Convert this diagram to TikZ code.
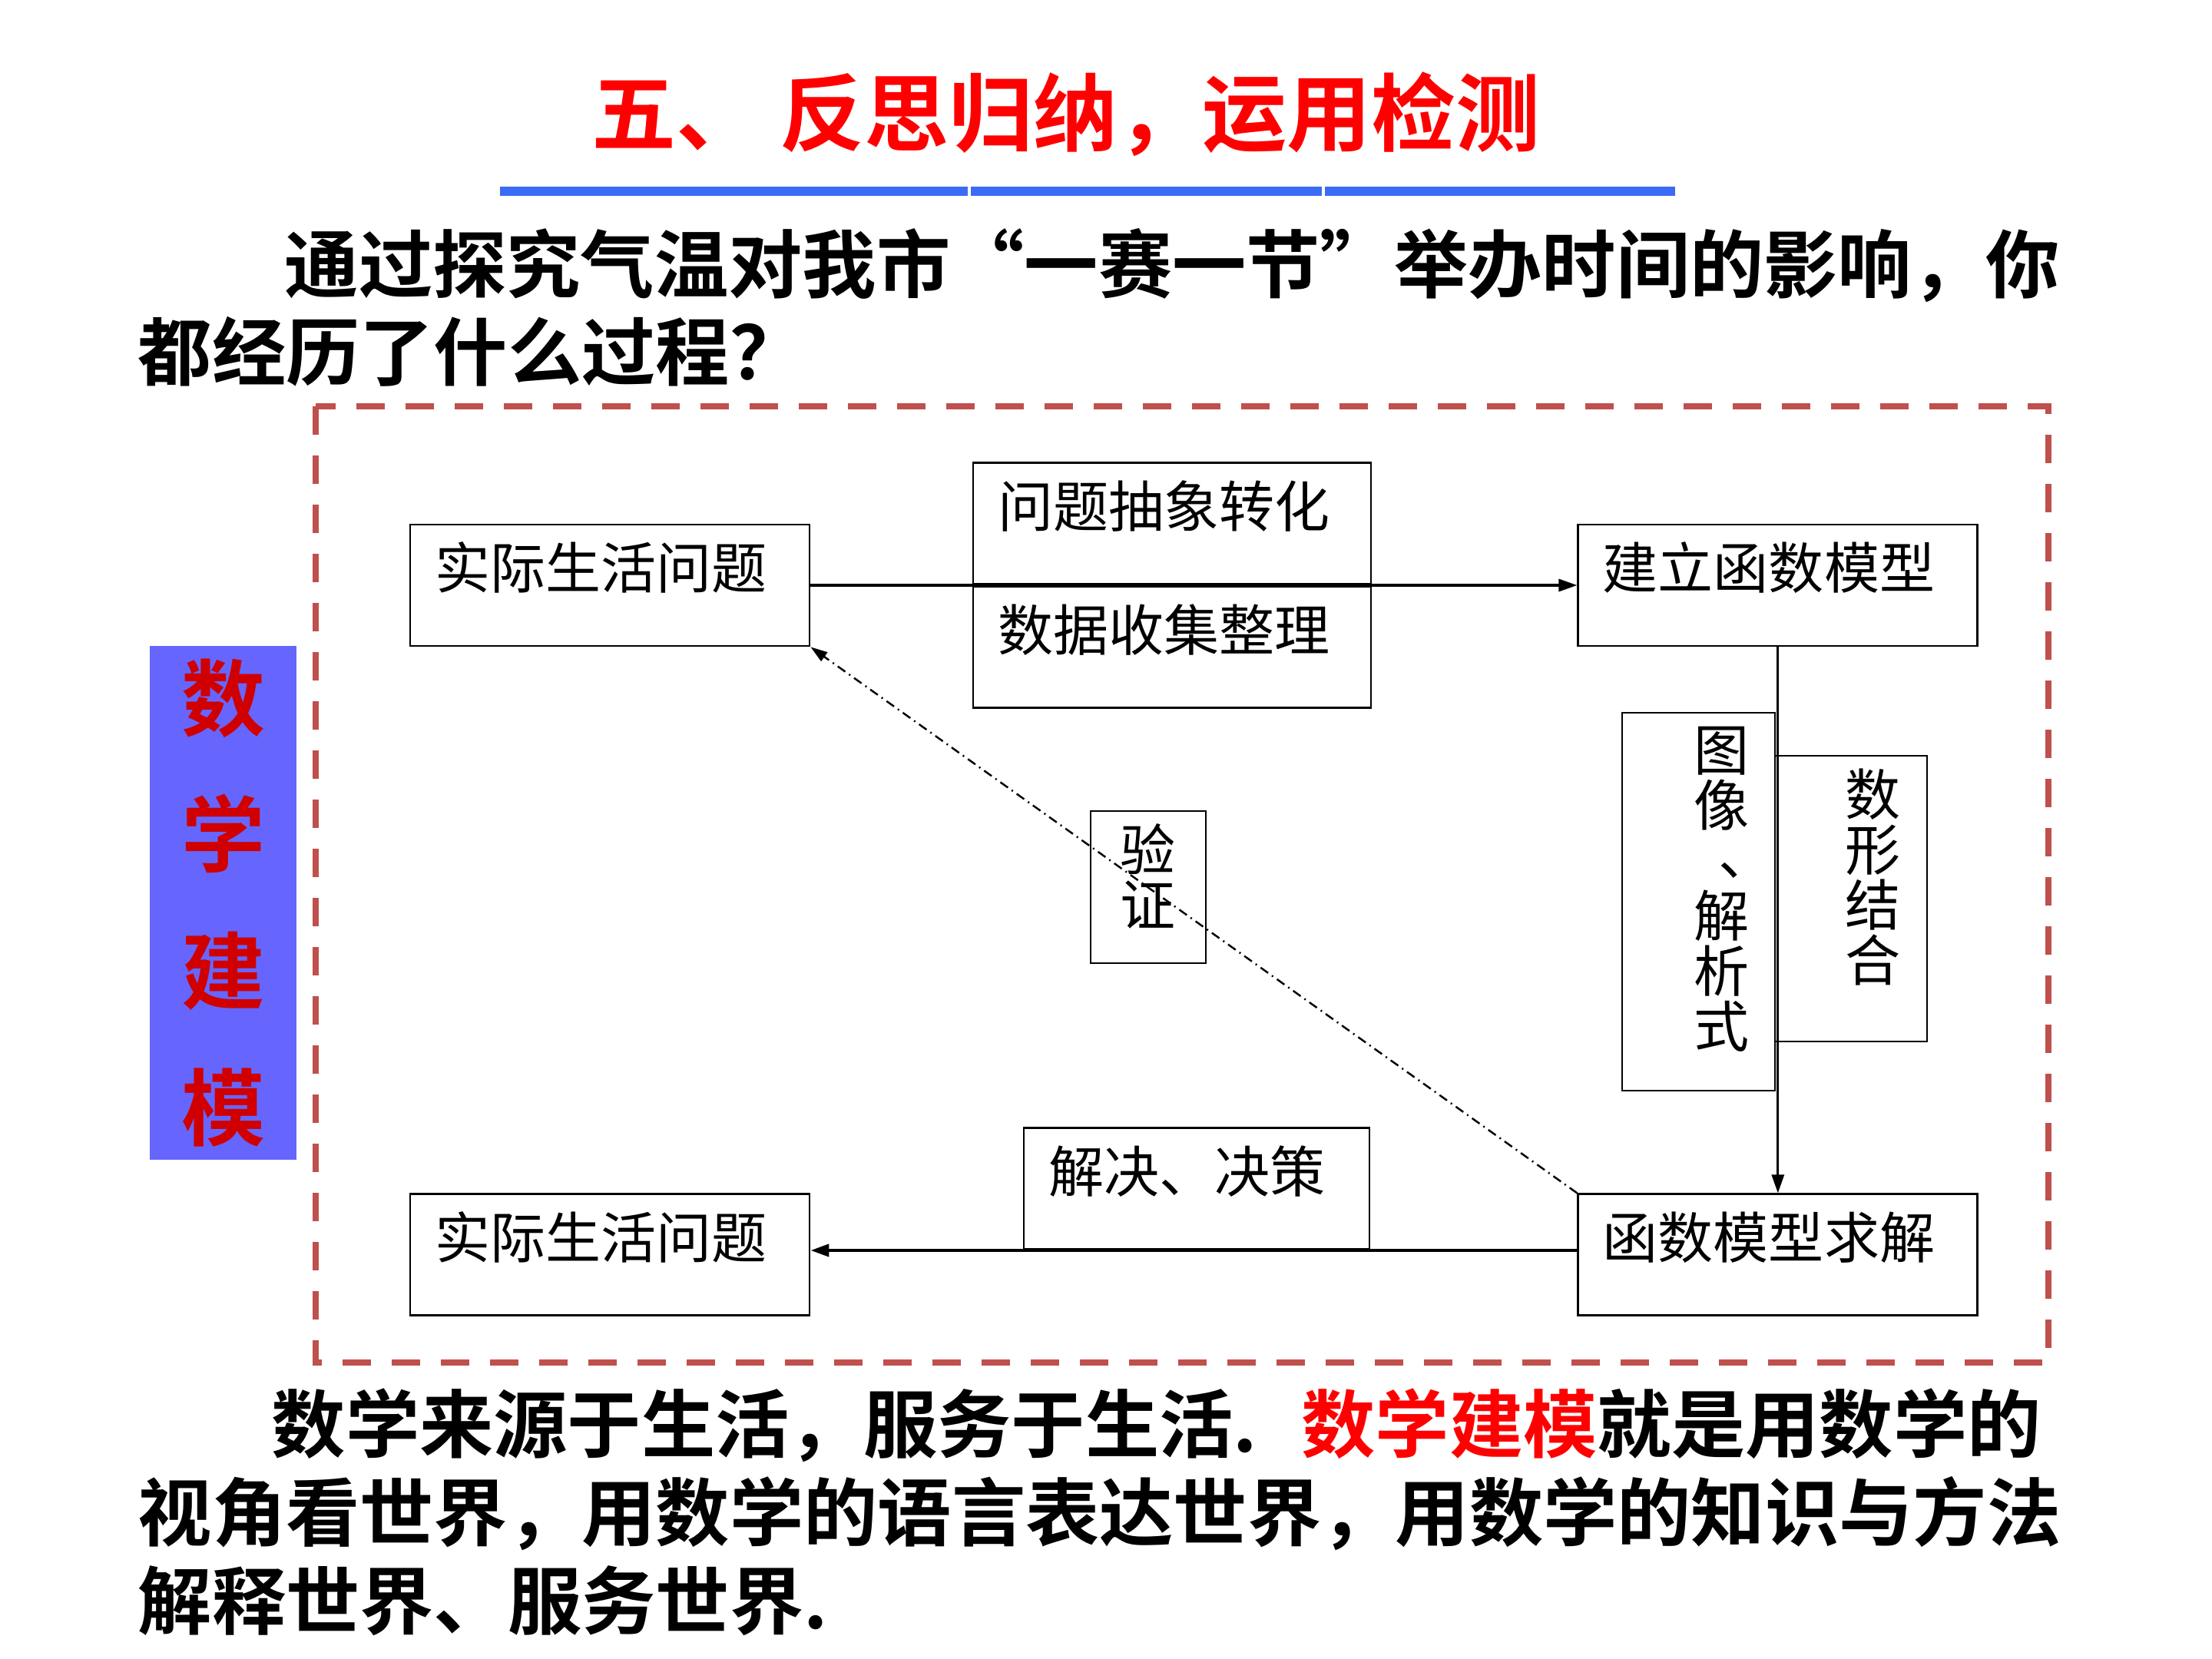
\documentclass[tikz,border=0pt]{standalone}
\usepackage{fontspec}
\setmainfont{Noto Sans CJK SC}[BoldFont={Noto Sans CJK SC Bold}]
\usetikzlibrary{arrows.meta, positioning}
\definecolor{framered}{RGB}{192,80,77}
\definecolor{ruleblue}{RGB}{59,107,245}
\definecolor{sideblue}{RGB}{102,102,255}
\definecolor{sidered}{RGB}{208,0,0}
\tikzset{%
	box/.style={draw, rectangle, line width=0.8pt, inner xsep=0.32cm, inner ysep=0mm,%
		text width=4.56cm, align=left, text height=0.84cm, text depth=0.74cm,%
		font=\fontsize{20.5}{20.5}\selectfont},
	vbox/.style={draw, rectangle, line width=0.8pt, inner sep=0mm},
	vtext/.style={align=center, inner sep=0mm, font=\fontsize{20.5}{20.5}\selectfont},
	sel/.style={-{Triangle[length=0.24cm, width=0.16cm]}, line width=0.9pt},
	back/.style={-{Triangle[length=0.22cm, width=0.14cm]}, line width=0.7pt,%
		dash pattern=on 0.12cm off 0.06cm on 0.02cm off 0.06cm},
	frame/.style={draw=framered, line width=0.08cm, dash pattern=on 0.37cm off 0.27cm},
	para/.style={anchor=base west, inner sep=0mm, font=\fontsize{27.4}{27.4}\selectfont\bfseries},
	sidebar/.style={fill=sideblue, minimum width=1.91cm, minimum height=6.69cm, inner sep=0mm,%
		align=center, text=sidered, font=\fontsize{31}{50.6}\selectfont\bfseries}
}
\begin{document}
\begin{tikzpicture}
	\useasboundingbox (0,0) rectangle (28.8,-21.6);

	% heading
	\node [anchor=base, inner sep=0mm, text=red, font=\fontsize{31.3}{31.3}\selectfont\bfseries]
		(head) at (13.88,-1.89) {五、 反思归纳，运用检测};
	\draw [ruleblue, line width=0.12cm] (6.51,-2.49) -- (12.60,-2.49);
	\draw [ruleblue, line width=0.12cm] (12.64,-2.49) -- (17.21,-2.49);
	\draw [ruleblue, line width=0.12cm] (17.25,-2.49) -- (21.81,-2.49);

	\node [para] (p1) at (3.70,-3.81) {通过探究气温对我市“一赛一节”举办时间的影响，你};
	\node [para] (p2) at (1.79,-4.95) {都经历了什么过程？};

	% frame
	\draw [frame] (4.11,-5.29) rectangle (26.67,-17.74);
	\node [sidebar] (mark) at (2.905,-11.755) {数\\学\\建\\模};

	% boxes
	\node [box] (real1) at (7.94,-7.62) {实际生活问题};
	\node [box, right=9.98 of real1] (model) {建立函数模型};
	\node [box, below=7.11 of model] (solve) {函数模型求解};
	\node [box, below=7.11 of real1] (real2) {实际生活问题};
	\node [box, anchor=south, text width=4.54cm] (abstr) at (15.26,-7.62) {问题抽象转化};
	\node [box, below=0mm of abstr, text width=4.54cm] (data) {数据收集整理};
	\node [box, anchor=south, text width=3.86cm] (decide) at (15.58,-16.28) {解决、决策};

	\node [vbox, minimum width=1.99cm, minimum height=4.92cm,
		label={[vtext, xshift=0.3cm, yshift=0.16cm]center:图\\像\\\makebox[1em][l]{\hspace*{0.45em}\raisebox{0.12em}{、}}\\解\\析\\式}]
		(graph) at (22.115,-11.74) {};
	\node [vbox, minimum width=1.98cm, minimum height=3.72cm,
		label={[vtext, xshift=0.29cm, yshift=0.28cm]center:数\\形\\结\\合}]
		(combine) at (24.10,-11.70) {};
	\node [vbox, minimum width=1.5cm, minimum height=1.98cm,
		label={[vtext, yshift=0.14cm]center:验\\证}]
		(check) at (14.95,-11.55) {};

	% connectors
	\draw [sel] (real1) -- (model);
	\draw [sel] (model) -- (solve);
	\draw [sel, line width=1.2pt] (solve.west |- decide.south) -- (real2.east |- decide.south);
	\draw [back] (solve.north west) -- (real1.south east);

	% closing text
	\node [para] (q1) at (3.53,-18.90) {数学来源于生活，服务于生活.\hspace{0.6em}{\color{red}数学建模}就是用数学的};
	\node [para] (q2) at (1.79,-20.05) {视角看世界，用数学的语言表达世界，用数学的知识与方法};
	\node [para] (q3) at (1.79,-21.20) {解释世界、服务世界.};
\end{tikzpicture}
\end{document}
